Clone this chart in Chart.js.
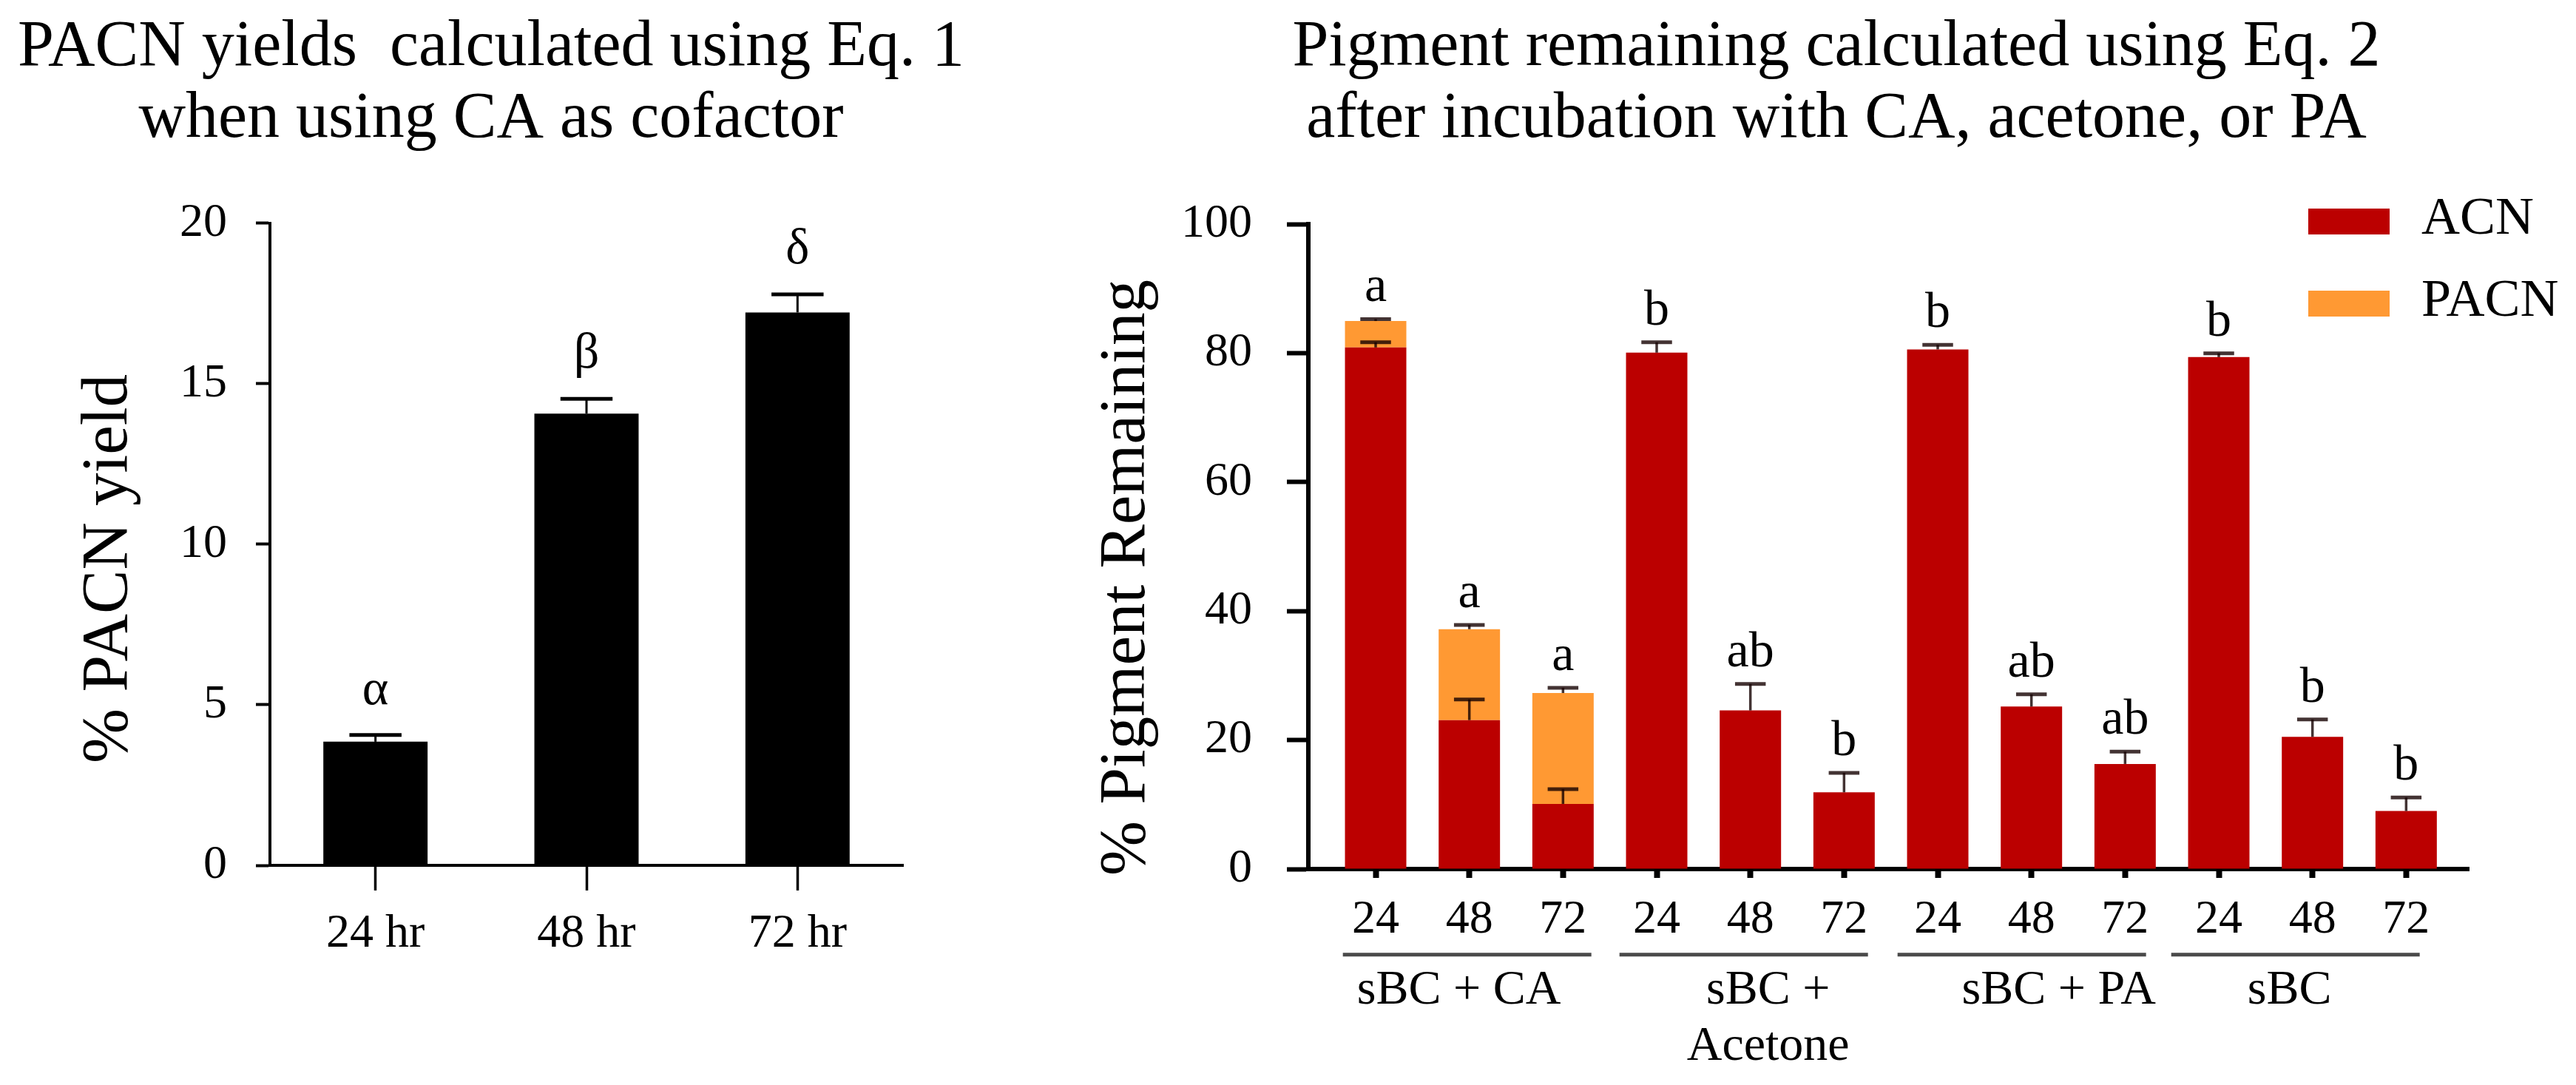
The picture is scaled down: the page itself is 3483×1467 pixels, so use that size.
<!DOCTYPE html>
<html>
<head>
<meta charset="utf-8">
<script src="https://cdn.jsdelivr.net/npm/chart.js@4.4.1/dist/chart.umd.min.js"></script>
<style>
html,body{margin:0;padding:0;background:#fff;overflow:hidden;}
#wrap{position:relative;width:3483px;height:1467px;background:#fff;}
.box{position:absolute;top:0;height:1467px;}
</style>
</head>
<body>
<div id="wrap">
  <div class="box" style="left:0;width:1300px;"><canvas id="c1"></canvas></div>
  <div class="box" style="left:1300px;width:2183px;"><canvas id="c2"></canvas></div>
</div>
<script>
// ---------- data: left panel ----------
const yieldCategories = ['24 hr', '48 hr', '72 hr'];
const yieldValues = [3.85, 14.07, 17.22];
const yieldErrors = [0.21, 0.46, 0.56];
const yieldLetters = ['α', 'β', 'δ'];
const yieldTicks = [0, 5, 10, 15, 20];

// ---------- data: right panel ----------
const timeLabels = ['24', '48', '72', '24', '48', '72', '24', '48', '72', '24', '48', '72'];
const groupLabels = [['sBC + CA'], ['sBC +', 'Acetone'], ['sBC + PA'], ['sBC']];
const acnValues = [80.9, 23.1, 10.1, 80.1, 24.6, 11.9, 80.6, 25.2, 16.3, 79.4, 20.5, 9.0];
const acnErrors = [0.8, 3.2, 2.3, 1.6, 4.1, 3.0, 0.7, 1.9, 1.9, 0.6, 2.7, 2.1];
const pacnValues = [4.1, 14.1, 17.2, 0, 0, 0, 0, 0, 0, 0, 0, 0];
const pacnErrors = [0.3, 0.65, 0.8, 0, 0, 0, 0, 0, 0, 0, 0, 0];
const sigLetters = ['a', 'a', 'a', 'b', 'ab', 'b', 'b', 'ab', 'ab', 'b', 'b', 'b'];
const pigmentTicks = [0, 20, 40, 60, 80, 100];

// ---------- styling ----------
const FONT = "'Liberation Serif', 'Times New Roman', serif";
Chart.defaults.font.family = FONT;
Chart.defaults.color = '#000';
const ACN_COLOR = '#BB0000';
const PACN_COLOR = '#FF9933';
const GROUP_SIZE = 3;
const GROUP_LINE_SHIFT = [-3, -9, -13, -23];
const GROUP_LABEL_SHIFT = [-14, 24, 37, -31];

function titlePlugin(lines, cx, baselines, size) {
  return {
    id: 'panelTitle',
    afterDraw(chart) {
      const ctx = chart.ctx;
      ctx.save();
      ctx.font = size + 'px ' + FONT;
      ctx.fillStyle = '#000';
      ctx.textAlign = 'center';
      ctx.textBaseline = 'alphabetic';
      lines.forEach((t, i) => ctx.fillText(t, cx, baselines[i]));
      ctx.restore();
    }
  };
}

function yTitlePlugin(text, baseX, cy, size) {
  return {
    id: 'yAxisTitle',
    afterDraw(chart) {
      const ctx = chart.ctx;
      ctx.save();
      ctx.translate(baseX, cy);
      ctx.rotate(-Math.PI / 2);
      ctx.font = size + 'px ' + FONT;
      ctx.fillStyle = '#000';
      ctx.textAlign = 'center';
      ctx.textBaseline = 'alphabetic';
      ctx.fillText(text, 0, 0);
      ctx.restore();
    }
  };
}

function errorBarPlugin(sets, style) {
  return {
    id: 'errorBars',
    afterDatasetsDraw(chart) {
      const ctx = chart.ctx, ys = chart.scales.y;
      ctx.save();
      ctx.strokeStyle = style.color;
      sets.forEach(s => {
        const meta = chart.getDatasetMeta(s.index);
        meta.data.forEach((bar, i) => {
          const e = s.errors[i];
          if (!e) return;
          const yTop = ys.getPixelForValue(s.tops[i]);
          const yCap = ys.getPixelForValue(s.tops[i] + e);
          const half = bar.width * style.capRatio / 2;
          ctx.lineWidth = style.stem;
          ctx.beginPath(); ctx.moveTo(bar.x, yTop); ctx.lineTo(bar.x, yCap); ctx.stroke();
          ctx.lineWidth = style.cap;
          ctx.beginPath(); ctx.moveTo(bar.x - half, yCap); ctx.lineTo(bar.x + half, yCap); ctx.stroke();
        });
      });
      ctx.restore();
    }
  };
}

function letterPlugin(letters, peaks, style) {
  return {
    id: 'sigLetters',
    afterDatasetsDraw(chart) {
      const ctx = chart.ctx, ys = chart.scales.y, meta = chart.getDatasetMeta(0);
      ctx.save();
      ctx.font = style.size + 'px ' + FONT;
      ctx.fillStyle = '#000';
      ctx.textAlign = 'center';
      ctx.textBaseline = 'alphabetic';
      letters.forEach((t, i) => {
        const bar = meta.data[i];
        ctx.fillText(t, bar.x, ys.getPixelForValue(peaks[i]) - style.gap);
      });
      ctx.restore();
    }
  };
}

// ---------- left chart ----------
new Chart(document.getElementById('c1'), {
  type: 'bar',
  data: {
    labels: yieldCategories,
    datasets: [{
      label: '% PACN yield',
      data: yieldValues,
      backgroundColor: '#000',
      categoryPercentage: 1,
      barPercentage: 0.494
    }]
  },
  options: {
    responsive: true,
    maintainAspectRatio: false,
    animation: false,
    layout: { padding: { left: 0, right: 79, top: 301.7, bottom: 0 } },
    plugins: { legend: { display: false }, tooltip: { enabled: false } },
    scales: {
      x: {
        afterFit: s => { s.height = 297; },
        ticks: { font: { size: 64 }, padding: 21, color: '#000', maxRotation: 0 },
        grid: { drawOnChartArea: false, tickLength: 34, tickWidth: 3.5, tickColor: '#000', offset: false },
        border: { display: true, color: '#000', width: 4 }
      },
      y: {
        min: 0, max: 20,
        afterBuildTicks: s => { s.ticks = yieldTicks.map(v => ({ value: v })); },
        afterFit: s => { s.width = 365; },
        ticks: { font: { size: 64 }, padding: 39, color: '#000' },
        grid: { drawOnChartArea: false, tickLength: 19, tickWidth: 4, tickColor: '#000' },
        border: { display: true, color: '#000', width: 4 },
        title: { display: false }
      }
    }
  },
  plugins: [
    titlePlugin(['PACN yields  calculated using Eq. 1', 'when using CA as cofactor'], 664, [88, 185], 88),
    yTitlePlugin('% PACN yield', 171, 769, 89),
    errorBarPlugin([{ index: 0, tops: yieldValues, errors: yieldErrors }], { color: '#000', stem: 3, cap: 5, capRatio: 0.5 }),
    letterPlugin(yieldLetters, yieldValues.map((v, i) => v + yieldErrors[i]), { size: 68, gap: 42 })
  ]
});

// ---------- right chart ----------
const totalValues = acnValues.map((v, i) => v + pacnValues[i]);
const peakValues = acnValues.map((v, i) => Math.max(v + acnErrors[i], totalValues[i] + pacnErrors[i]));

const groupPlugin = {
  id: 'groups',
  afterDraw(chart) {
    const ctx = chart.ctx, xs = chart.scales.x;
    ctx.save();
    groupLabels.forEach((lines, g) => {
      const cx = xs.getPixelForValue(g * GROUP_SIZE + (GROUP_SIZE - 1) / 2);
      const lx = cx + GROUP_LINE_SHIFT[g];
      ctx.strokeStyle = '#4a4a4a';
      ctx.lineWidth = 5;
      ctx.beginPath(); ctx.moveTo(lx - 168, 1290.7); ctx.lineTo(lx + 168, 1290.7); ctx.stroke();
      ctx.font = '66px ' + FONT;
      ctx.fillStyle = '#000';
      ctx.textAlign = 'center';
      ctx.textBaseline = 'alphabetic';
      lines.forEach((t, k) => ctx.fillText(t, cx + GROUP_LABEL_SHIFT[g], 1357 + k * 76));
    });
    ctx.restore();
  }
};

const legendPlugin = {
  id: 'panelLegend',
  afterDraw(chart) {
    const ctx = chart.ctx;
    ctx.save();
    chart.data.datasets.forEach((ds, k) => {
      const y = 282 + k * 111;
      ctx.fillStyle = ds.backgroundColor;
      ctx.fillRect(1821, y, 110, 35);
      ctx.fillStyle = '#000';
      ctx.font = '72px ' + FONT;
      ctx.textAlign = 'left';
      ctx.textBaseline = 'alphabetic';
      ctx.fillText(ds.label, 1974, y + 34);
    });
    ctx.restore();
  }
};

new Chart(document.getElementById('c2'), {
  type: 'bar',
  data: {
    datasets: [
      {
        label: 'ACN',
        data: acnValues.map((v, i) => ({ x: i, y: v })),
        backgroundColor: ACN_COLOR,
        categoryPercentage: 1,
        barPercentage: 0.655
      },
      {
        label: 'PACN',
        data: pacnValues.map((v, i) => ({ x: i, y: v })),
        backgroundColor: PACN_COLOR,
        categoryPercentage: 1,
        barPercentage: 0.655
      }
    ]
  },
  options: {
    responsive: true,
    maintainAspectRatio: false,
    animation: false,
    layout: { padding: { left: 0, right: 144.4, top: 303.3, bottom: 0 } },
    plugins: { legend: { display: false }, tooltip: { enabled: false } },
    scales: {
      x: {
        type: 'linear',
        stacked: true,
        min: -0.7185,
        max: 11.673,
        offset: false,
        afterBuildTicks: s => { s.ticks = timeLabels.map((_, i) => ({ value: i })); },
        afterFit: s => { s.height = 292; },
        ticks: { callback: v => timeLabels[v], font: { size: 64 }, padding: 19, color: '#000', maxRotation: 0, autoSkip: false },
        grid: { display: true, drawOnChartArea: false, tickLength: 12, tickWidth: 8, tickColor: '#000', offset: false },
        border: { display: true, color: '#000', width: 6 }
      },
      y: {
        stacked: true,
        min: 0, max: 100,
        afterBuildTicks: s => { s.ticks = pigmentTicks.map(v => ({ value: v })); },
        afterFit: s => { s.width = 469; },
        ticks: { font: { size: 64 }, padding: 47, color: '#000' },
        grid: { drawOnChartArea: false, tickLength: 29, tickWidth: 6, tickColor: '#000' },
        border: { display: true, color: '#000', width: 6 },
        title: { display: false }
      }
    }
  },
  plugins: [
    titlePlugin(['Pigment remaining calculated using Eq. 2', 'after incubation with CA, acetone, or PA'], 1183, [88, 185], 88),
    yTitlePlugin('% Pigment Remaining', 247, 781, 89),
    errorBarPlugin([
      { index: 0, tops: acnValues, errors: acnErrors },
      { index: 1, tops: totalValues, errors: pacnErrors }
    ], { color: 'rgba(20,0,0,0.8)', stem: 3.5, cap: 5, capRatio: 0.5 }),
    letterPlugin(sigLetters, peakValues, { size: 68, gap: 24 }),
    groupPlugin,
    legendPlugin
  ]
});
</script>
</body>
</html>
